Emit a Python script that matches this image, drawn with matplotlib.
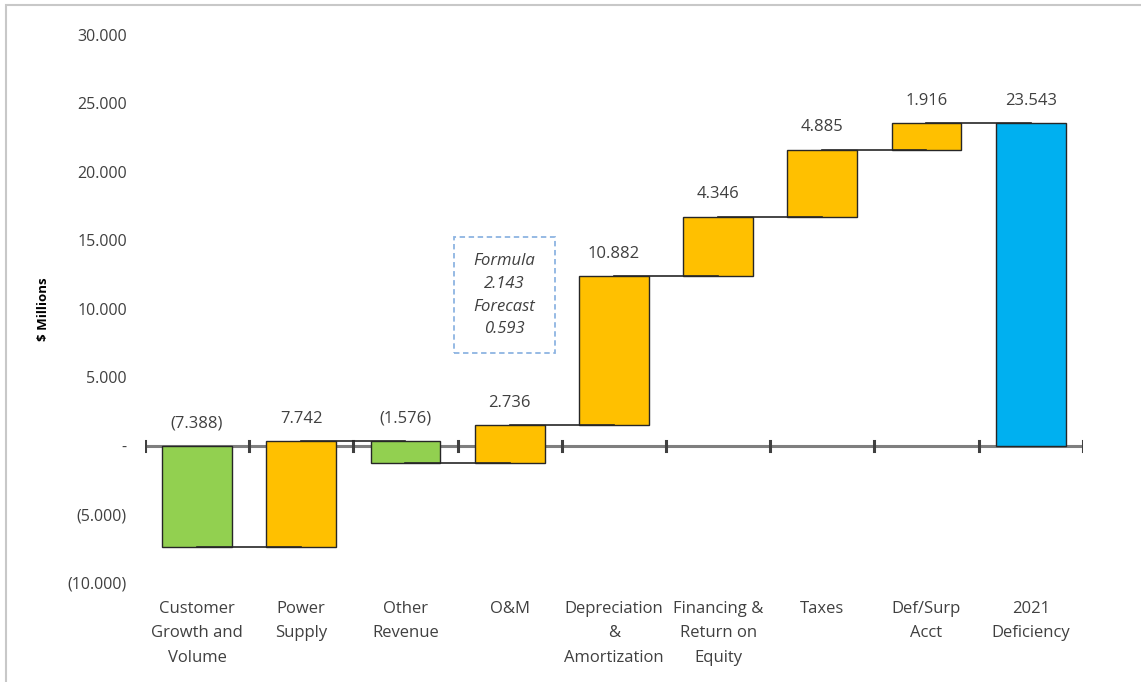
import matplotlib.pyplot as plt
import matplotlib.patches as mpatches
from matplotlib.ticker import FuncFormatter, MultipleLocator
import numpy as np

plt.rcParams['font.family'] = ['Open Sans', 'DejaVu Sans']

# Revenue requirement walk ($ millions)
categories = ["Customer\nGrowth and\nVolume", "Power\nSupply", "Other\nRevenue", "O&M",
              "Depreciation\n&\nAmortization", "Financing &\nReturn on\nEquity", "Taxes",
              "Def/Surp\nAcct", "2021\nDeficiency"]
changes = [-7.388, 7.742, -1.576, 2.736, 10.882, 4.346, 4.885, 1.916]
total = 23.543
bar_colors = ["#92D050", "#FFC000", "#92D050", "#FFC000", "#FFC000",
              "#FFC000", "#FFC000", "#FFC000", "#00B0F0"]
note_text = "Formula\n2.143\nForecast\n0.593"


def fmt_num(v):
    if abs(v) < 1e-9:
        return "-"
    s = f"{abs(v):,.3f}".replace(",", "")
    return f"({s})" if v < 0 else s


fig = plt.figure(figsize=(11.41, 6.82), dpi=100)
ax = fig.add_axes([0.127, 0.1452, 0.822, 0.8035])

x = np.arange(1, len(categories) + 1)
ends = np.cumsum(changes)
starts = np.concatenate([[0], ends[:-1]])
bottoms = list(np.minimum(starts, ends)) + [0]
heights = list(np.abs(changes)) + [total]
tops = list(np.maximum(starts, ends)) + [total]
labels = [fmt_num(v) for v in changes] + [fmt_num(total)]

width = 0.67
ax.bar(x, heights, bottom=bottoms, width=width, color=bar_colors,
       edgecolor="#262626", linewidth=1.0, zorder=3)

# zero line with tick marks between categories
ax.plot([0.5, len(categories) + 0.5], [0, 0], color="#7f7f7f", lw=2.2, zorder=2)
for b in np.arange(0.5, len(categories) + 1, 1):
    ax.plot([b, b], [-0.35, 0.35], color="#404040", lw=2.2, zorder=2)

# connectors from each bar to the next
for i, lvl in enumerate(ends):
    ax.plot([x[i], x[i + 1]], [lvl, lvl], color="#262626", lw=1.2, zorder=4)

for xi, t, lab in zip(x, tops, labels):
    ax.annotate(lab, (xi, t), xytext=(0, 16), textcoords="offset points",
                ha="center", va="center", fontsize=12, color="#404040")

ax.text(3.95, 11.0, note_text, ha="center", va="center", fontsize=12,
        style="italic", color="#404040", linespacing=1.55, zorder=5)
ax.add_patch(mpatches.Rectangle((3.47, 6.8), 0.97, 8.45, fill=False,
                                edgecolor="#8DB4E2", linestyle=(0, (3, 2)), lw=1.3))

ax.set_xlim(0.5, len(categories) + 0.5)
ax.set_ylim(-10, 30)
ax.yaxis.set_major_locator(MultipleLocator(5))
ax.yaxis.set_major_formatter(FuncFormatter(lambda v, p: fmt_num(v)))
ax.tick_params(axis="y", length=0, labelsize=11.5, labelcolor="#404040", pad=13)
ax.set_xticks([])
for sp in ax.spines.values():
    sp.set_visible(False)

for xi, cat in zip(x, categories):
    ax.text(xi, -11.3, cat, ha="center", va="top", fontsize=12, color="#404040",
            linespacing=1.7)

ax.set_ylabel("$ Millions", fontsize=9.5, fontweight="bold", labelpad=13)

# light frame around the figure
fig.patches.append(mpatches.Rectangle((0.005, -0.01), 1.0, 1.002, transform=fig.transFigure,
                                      fill=False, edgecolor="#c8c8c8", lw=1.5))

fig.savefig("out.png", dpi=100)
